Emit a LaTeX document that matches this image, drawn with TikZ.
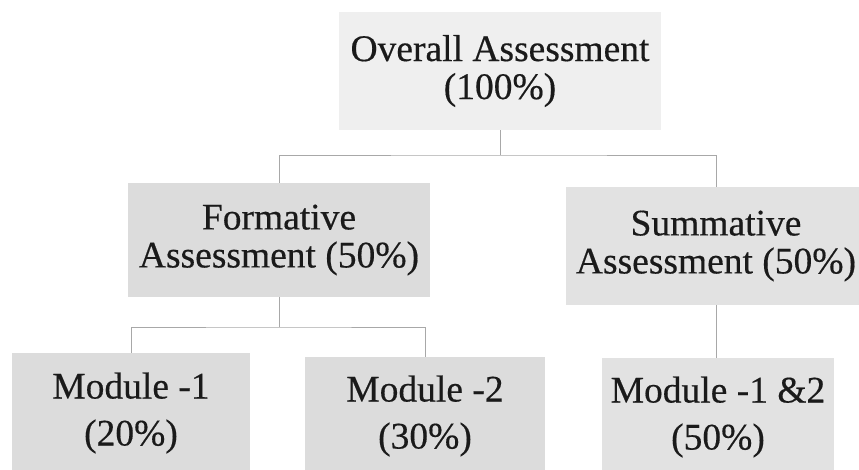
\documentclass[tikz,border=0pt]{standalone}
\usepackage{fontspec}
\setmainfont{Liberation Serif}[UprightFeatures={FakeBold=0.4}]
\definecolor{txt}{HTML}{1A1A1A}
\definecolor{fillA}{HTML}{EFEFEF}
\definecolor{fillB}{HTML}{DCDCDC}
\definecolor{fillC}{HTML}{E2E2E2}
\definecolor{lineC}{HTML}{A8A8A8}
\tikzset{
  box/.style={fill=#1, draw=none, inner sep=0pt, align=center, text=txt,
    font=\fontsize{37.5}{38}\selectfont},
  modbox/.style={box=#1, font=\fontsize{37.5}{47}\selectfont},
  conn/.style={draw=lineC, line width=0.9pt}
}
\begin{document}
\begin{tikzpicture}[x=1pt,y=-1pt]
\useasboundingbox (0,0) rectangle (859,470);
\fill[white] (0,0) rectangle (859,470);
\node[box=fillA, minimum width=322pt, minimum height=118pt] (top) at (500,71)
  {Overall Assessment\\(100\%)};
\node[box=fillB, minimum width=302pt, minimum height=114pt] (form) at (279,240)
  {Formative\\Assessment (50\%)};
\node[box=fillC, minimum width=300pt, minimum height=118pt] (summ) at (716,246)
  {Summative\\Assessment (50\%)};
\node[modbox=fillB, minimum width=238pt, minimum height=120pt] (m1) at (131,413)
  {Module -1\\(20\%)};
\node[modbox=fillB, minimum width=240pt, minimum height=118pt] (m2) at (425,416)
  {Module -2\\(30\%)};
\node[modbox=fillC, minimum width=232pt, minimum height=118pt] (m12) at (718,417)
  {Module -1 \&2\\(50\%)};
\coordinate (j1) at (500,155);
\coordinate (j2) at (279,327);
\draw[conn] (top.south) -- (j1);
\draw[conn] (form.north) |- (j1) -| (summ.north);
\draw[conn] (form.south) -- (j2);
\draw[conn] (m1.north) |- (j2) -| (m2.north);
\draw[conn] (summ.south) -- (summ.south |- m12.north);
\end{tikzpicture}
\end{document}
